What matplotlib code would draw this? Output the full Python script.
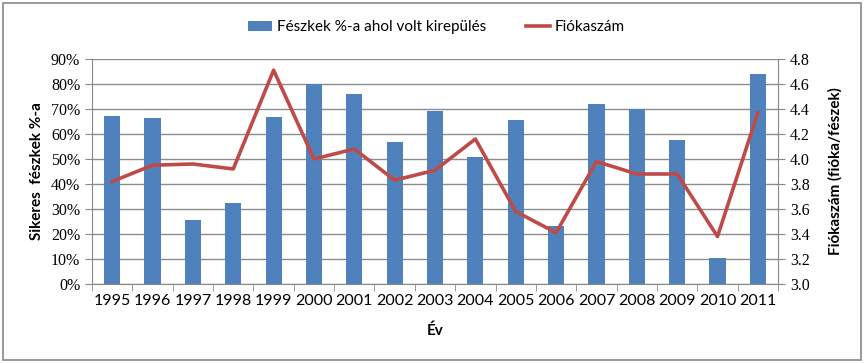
import numpy as np
import matplotlib.pyplot as plt
from matplotlib.patches import Rectangle
from matplotlib.ticker import FixedLocator

# -----------------------------------------------------------------------------
# Data
# -----------------------------------------------------------------------------

years = ["1995", "1996", "1997", "1998", "1999", "2000", "2001", "2002", "2003",
         "2004", "2005", "2006", "2007", "2008", "2009", "2010", "2011"]
success_pct = [67.2, 66.4, 25.6, 32.4, 66.8, 80.0, 76.1, 56.8, 69.2,
               50.8, 65.6, 23.2, 72.0, 70.0, 57.6, 10.4, 84.0]
chicks = [3.82, 3.95, 3.96, 3.92, 4.71, 4.00, 4.08, 3.83, 3.91,
          4.16, 3.58, 3.41, 3.98, 3.88, 3.88, 3.38, 4.37]

BAR_COLOR = "#4F81BD"
LINE_COLOR = "#BE4B48"
SANS = ["Lato", "DejaVu Sans"]
SERIF = ["Liberation Serif", "DejaVu Serif"]

# -----------------------------------------------------------------------------
# Plot
# -----------------------------------------------------------------------------

fig = plt.figure(figsize=(8.64, 3.63), dpi=100)
ax = fig.add_axes([0.1065, 0.2176, 0.794, 0.62])
ax2 = ax.twinx()

x = np.arange(len(years))
bars = ax.bar(x, success_pct, width=0.4, color=BAR_COLOR, zorder=2,
              label="Fészkek %-a ahol volt kirepülés")
line, = ax2.plot(x, chicks, color=LINE_COLOR, lw=2.6, zorder=3,
                 label="Fiókaszám")

ax.set_xlim(-0.5, len(years) - 0.5)
ax.set_ylim(0, 90)
ax2.set_ylim(3.0, 4.8)
ax.set_yticks(np.arange(0, 91, 10))
ax.set_yticklabels([f"{v}%" for v in range(0, 91, 10)], fontfamily=SERIF,
                   fontsize=11.5)
ax2.set_yticks(np.arange(3.0, 4.81, 0.2))
ax2.set_yticklabels([f"{v:.1f}" for v in np.arange(3.0, 4.81, 0.2)],
                    fontfamily=SERIF, fontsize=11.5)

ax.set_xticks(x)
ax.set_xticklabels(years, fontfamily=SANS, fontsize=11.5)
ax.xaxis.set_minor_locator(FixedLocator(np.arange(-0.5, len(years), 1)))
ax.tick_params(axis="x", which="major", length=0, pad=7)
ax.tick_params(axis="x", which="minor", length=5, color="#888888")
ax.tick_params(axis="y", length=5, color="#888888")
ax2.tick_params(axis="y", length=5, color="#888888")

ax.grid(axis="y", color="#8c8c8c", lw=1.0, zorder=0)
ax.set_axisbelow(True)
for a in (ax, ax2):
    for side in ("top", "right"):
        a.spines[side].set_visible(False)
    a.spines["left"].set_color("#888888")
    a.spines["bottom"].set_color("#888888")
ax2.spines["left"].set_visible(False)
ax2.spines["bottom"].set_visible(False)
ax2.spines["right"].set_visible(True)
ax2.spines["right"].set_color("#888888")

ax.set_xlabel("Év", fontfamily=SANS, fontsize=11, fontweight="bold", labelpad=11)
ax.set_ylabel("Sikeres  fészkek %-a", fontfamily=SANS, fontsize=11,
              fontweight="bold", labelpad=5)
ax2.set_ylabel("Fiókaszám (fióka/fészek)", fontfamily=SANS, fontsize=11,
               fontweight="bold", labelpad=13)

fig.legend([bars, line], ["Fészkek %-a ahol volt kirepülés", "Fiókaszám"],
           loc="center", bbox_to_anchor=(0.505, 0.925), ncol=2, frameon=False,
           prop={"family": SANS, "size": 11}, handlelength=1.6,
           columnspacing=2.6, handletextpad=0.3)

fig.patches.append(Rectangle((0.004, 0.008), 0.992, 0.984,
                             transform=fig.transFigure, fill=False,
                             edgecolor="#888888", lw=1.2))

fig.savefig("out.png", dpi=100)
